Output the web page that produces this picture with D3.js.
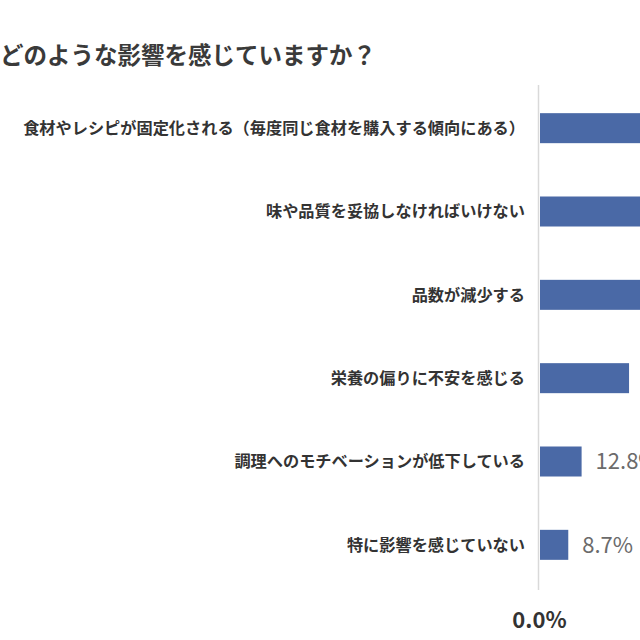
<!DOCTYPE html>
<html>
<head>
<meta charset="utf-8">
<script src="https://cdn.jsdelivr.net/npm/d3@7/dist/d3.min.js"></script>
<style>
  html, body { margin: 0; padding: 0; background: #fff; }
  svg { display: block; }
  text { font-family: "Noto Sans CJK JP", "Noto Sans", sans-serif; }
</style>
</head>
<body>
<svg id="chart" width="640" height="640"></svg>
<script>
const titleText = "どのような影響を感じていますか？";
const categories = [
  "食材やレシピが固定化される（毎度同じ食材を購入する傾向にある）",
  "味や品質を妥協しなければいけない",
  "品数が減少する",
  "栄養の偏りに不安を感じる",
  "調理へのモチベーションが低下している",
  "特に影響を感じていない"
];
const values = [45.2, 38.5, 33.0, 27.4, 12.8, 8.7];
const axisTicks = [0];

const svg = d3.select("#chart");

svg.append("text")
  .attr("x", 0).attr("y", 64)
  .attr("font-size", 23.5).attr("font-weight", "bold")
  .attr("fill", "#3a3a3a")
  .text(titleText);

const x = d3.scaleLinear().domain([0, 100]).range([540, 540 + 325]);
const y = d3.scaleBand().domain(categories).range([86.5, 586.5])
  .paddingInner(0.64).paddingOuter(0.32);

// axis baseline
svg.append("line")
  .attr("x1", x(0) - 1.5).attr("x2", x(0) - 1.5)
  .attr("y1", 85).attr("y2", 590)
  .attr("stroke", "#d9d9d9").attr("stroke-width", 1.5);

const data = categories.map((c, i) => ({ c, v: values[i] }));

svg.selectAll("rect.bar").data(data).join("rect")
  .attr("class", "bar")
  .attr("x", x(0))
  .attr("y", d => y(d.c))
  .attr("width", d => x(d.v) - x(0))
  .attr("height", y.bandwidth())
  .attr("fill", "#4a69a6");

svg.selectAll("text.cat").data(data).join("text")
  .attr("class", "cat")
  .attr("x", 525)
  .attr("y", d => y(d.c) + y.bandwidth() / 2)
  .attr("dy", "0.36em")
  .attr("text-anchor", "end")
  .attr("font-size", 16.2).attr("font-weight", "bold")
  .attr("fill", "#333")
  .text(d => d.c);

svg.selectAll("text.val").data(data).join("text")
  .attr("class", "val")
  .attr("x", d => x(d.v) + 14)
  .attr("y", d => y(d.c) + y.bandwidth() / 2)
  .attr("dy", "0.36em")
  .attr("font-size", 22)
  .attr("fill", "#6b6b6b")
  .text(d => d.v.toFixed(1) + "%");

// x axis tick labels
const axis = d3.axisBottom(x).tickValues(axisTicks)
  .tickFormat(d => d.toFixed(1) + "%").tickSize(0).tickPadding(0);
const ag = svg.append("g").attr("transform", "translate(-1,612)").call(axis);
ag.select(".domain").remove();
ag.selectAll("text")
  .attr("font-size", 22).attr("font-weight", "bold")
  .attr("fill", "#333")
  .attr("font-family", "\"Noto Sans CJK JP\", \"Noto Sans\", sans-serif");
</script>
</body>
</html>
